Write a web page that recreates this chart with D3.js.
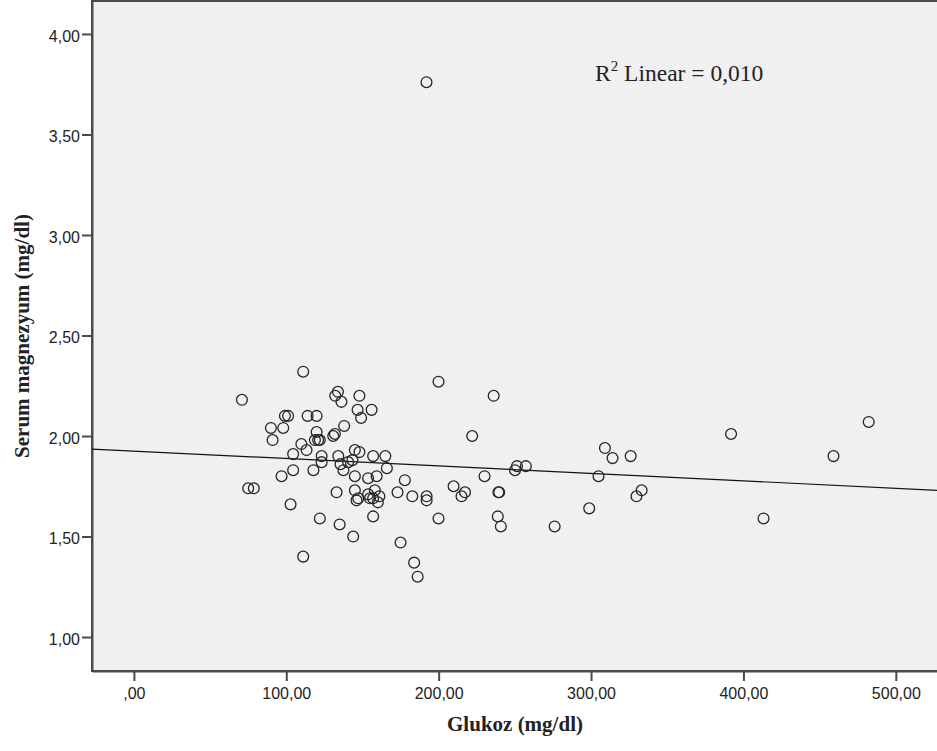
<!DOCTYPE html>
<html>
<head>
<meta charset="utf-8">
<script src="https://cdn.jsdelivr.net/npm/d3@7"></script>
<style>
  body { margin: 0; background: #fff; overflow: hidden; }
  svg { display: block; }
</style>
</head>
<body>
<div id="wrapper"></div>
<script>
// Glukoz (mg/dl) and Serum magnezyum (mg/dl)
const glukoz = [
  70.9, 75.0, 78.7, 89.9, 91.0, 98.0, 96.9, 99.1, 101.2, 102.8,
  104.5, 104.5, 109.9, 111.1, 111.1, 113.3, 114.0, 119.9, 117.8, 119.9,
  120.9, 122.0, 118.8, 122.0, 123.2, 123.2, 130.8, 131.9, 133.9, 132.1,
  136.2, 134.1, 135.6, 137.5, 138.0, 133.0, 135.0, 140.6, 143.4, 143.9,
  145.0, 148.0, 145.0, 145.0, 146.1, 147.2, 148.0, 146.8, 149.1, 156.0,
  157.0, 165.0, 166.0, 153.7, 159.3, 153.7, 158.1, 154.9, 157.0, 161.1,
  160.1, 157.0, 173.0, 175.0, 177.8, 182.7, 183.9, 186.2, 192.1, 192.1,
  192.0, 199.9, 199.9, 209.8, 215.0, 217.3, 222.0, 230.1, 236.1, 239.2,
  239.7, 238.8, 240.8, 250.1, 251.4, 257.2, 276.1, 298.8, 304.9, 309.1,
  314.1, 326.0, 329.8, 333.2, 391.9, 413.2, 459.1, 482.2
];
const magnezyum = [
  2.18, 1.74, 1.74, 2.04, 1.98, 2.04, 1.80, 2.10, 2.10, 1.66,
  1.91, 1.83, 1.96, 2.32, 1.40, 1.93, 2.10, 2.10, 1.83, 2.02,
  1.98, 1.98, 1.98, 1.59, 1.90, 1.87, 2.00, 2.01, 2.22, 2.20,
  2.17, 1.90, 1.86, 1.83, 2.05, 1.72, 1.56, 1.87, 1.88, 1.50,
  1.93, 1.92, 1.80, 1.73, 1.68, 1.69, 2.20, 2.13, 2.09, 2.13,
  1.90, 1.90, 1.84, 1.79, 1.80, 1.71, 1.73, 1.69, 1.69, 1.70,
  1.67, 1.60, 1.72, 1.47, 1.78, 1.70, 1.37, 1.30, 1.70, 1.68,
  3.76, 2.27, 1.59, 1.75, 1.70, 1.72, 2.00, 1.80, 2.20, 1.72,
  1.72, 1.60, 1.55, 1.83, 1.85, 1.85, 1.55, 1.64, 1.80, 1.94,
  1.89, 1.90, 1.70, 1.73, 2.01, 1.59, 1.90, 2.07
];

const xTicks = [0, 100, 200, 300, 400, 500];
const yTicks = [1.0, 1.5, 2.0, 2.5, 3.0, 3.5, 4.0];

// fit line as shown on the chart
const fitIntercept = 1.925;
const fitSlope = -0.00037;
const fitLabel = "0,010";

const width = 937, height = 751;
const plot = { left: 92, top: 1, right: 940, bottom: 671 };

const svg = d3.select("#wrapper").append("svg")
    .attr("width", width)
    .attr("height", height);

const xScale = d3.scaleLinear()
    .domain([-27.5, 529])
    .range([plot.left, plot.right]);

const yScale = d3.scaleLinear()
    .domain([0.831, 4.164])
    .range([plot.bottom, plot.top]);

// SPSS style numbers: comma decimal, no leading zero
const fmt = v => {
    let s = d3.format(".2f")(v).replace(".", ",");
    if (s.startsWith("0,")) s = s.slice(1);
    return s;
};

svg.append("rect")
    .attr("x", plot.left)
    .attr("y", plot.top)
    .attr("width", plot.right - plot.left)
    .attr("height", plot.bottom - plot.top)
    .attr("fill", "#f0f0f0")
    .attr("stroke", "#4a4a4a")
    .attr("stroke-width", 2);

const xAxis = svg.append("g")
    .attr("transform", `translate(0,${plot.bottom})`)
    .call(d3.axisBottom(xScale).tickValues(xTicks).tickFormat(fmt)
        .tickSize(10).tickPadding(7).tickSizeOuter(0));

const yAxis = svg.append("g")
    .attr("transform", `translate(${plot.left},0)`)
    .call(d3.axisLeft(yScale).tickValues(yTicks).tickFormat(fmt)
        .tickSize(10).tickPadding(2).tickSizeOuter(0));

[xAxis, yAxis].forEach(g => {
    g.select(".domain").attr("stroke", "#4a4a4a").attr("stroke-width", 2);
    g.selectAll(".tick line").attr("stroke", "#4a4a4a").attr("stroke-width", 2);
    g.selectAll(".tick text")
        .attr("fill", "#222")
        .style("font-family", "'Liberation Sans', Arial, sans-serif")
        .style("font-size", "16px");
});
yAxis.selectAll(".tick text").attr("dy", "0.45em");

// regression line
const xDom = xScale.domain();
const fitLine = d3.line()
    .x(d => xScale(d))
    .y(d => yScale(fitIntercept + fitSlope * d));

svg.append("path")
    .attr("d", fitLine(xDom))
    .attr("fill", "none")
    .attr("stroke", "#111")
    .attr("stroke-width", 1.2);

// points
const points = glukoz.map((g, i) => ({ g: g, m: magnezyum[i] }));

svg.append("g").selectAll("circle")
    .data(points)
    .join("circle")
    .attr("cx", d => xScale(d.g))
    .attr("cy", d => yScale(d.m))
    .attr("r", 5.4)
    .attr("fill", "none")
    .attr("stroke", "#262626")
    .attr("stroke-width", 1.3);

// R2 label
const r2 = svg.append("text")
    .attr("x", 595)
    .attr("y", 81)
    .attr("fill", "#222")
    .style("font-family", "'Liberation Serif', 'Times New Roman', serif")
    .style("font-size", "23.5px");
r2.append("tspan").text("R");
r2.append("tspan").attr("dy", -10).style("font-size", "15px").text("2");
r2.append("tspan").attr("dy", 10).text(" Linear = " + fitLabel);

// axis titles
svg.append("text")
    .attr("x", 515)
    .attr("y", 731)
    .attr("text-anchor", "middle")
    .attr("fill", "#222")
    .style("font-family", "'Liberation Serif', 'Times New Roman', serif")
    .style("font-weight", "bold")
    .style("font-size", "21px")
    .text("Glukoz (mg/dl)");

svg.append("text")
    .attr("transform", `translate(29,${(plot.top + plot.bottom) / 2}) rotate(-90)`)
    .attr("text-anchor", "middle")
    .attr("fill", "#222")
    .style("font-family", "'Liberation Serif', 'Times New Roman', serif")
    .style("font-weight", "bold")
    .style("font-size", "21px")
    .text("Serum magnezyum (mg/dl)");
</script>
</body>
</html>
